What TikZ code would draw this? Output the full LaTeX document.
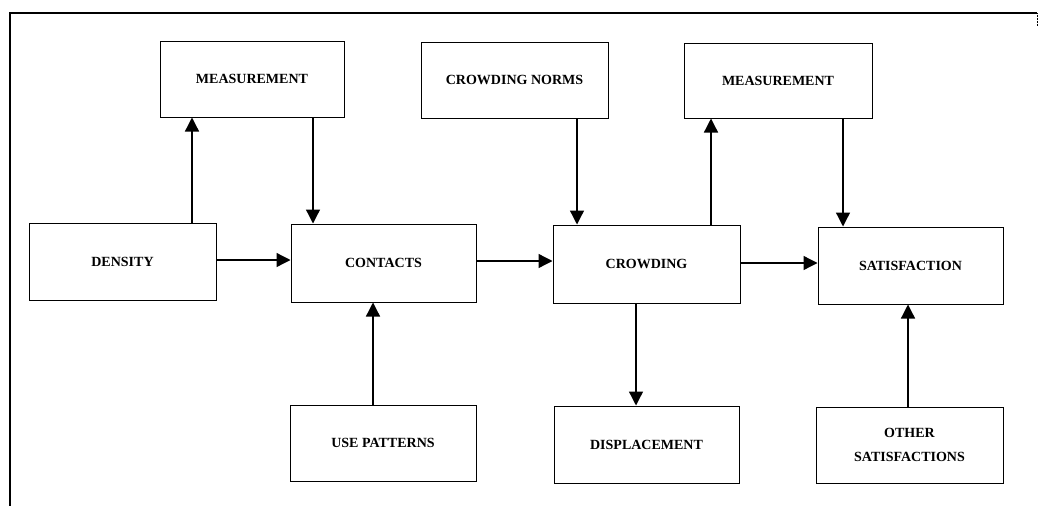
\documentclass[tikz,border=0pt]{standalone}
\usepackage{fontspec}
\setmainfont{Liberation Serif}
\usetikzlibrary{arrows.meta}
\begin{document}
\begin{tikzpicture}[x=1pt,y=-1pt,
  box/.style={draw,line width=1pt,inner sep=0pt,align=center,
    font=\fontsize{14}{24}\selectfont\bfseries},
  arr/.style={line width=1.3pt,-{Triangle[length=14pt,width=14pt]}},
  frameline/.style={line width=1.6pt}]
\useasboundingbox (0,0) rectangle (1038,506);

% outer frame (top and left edges)
\draw[frameline] (1037,13) -- (10,13) -- (10,506);
\draw[line width=0.5pt,densely dotted] (1037,13) -- (1037,26);

% boxes
\node[box,minimum width=184pt,minimum height=76pt] (meas1)    at (252,79)      {MEASUREMENT};
\node[box,minimum width=187pt,minimum height=77pt] (density)  at (122.5,261.5) {DENSITY};
\node[box,minimum width=185pt,minimum height=78pt] (contacts) at (383.5,263)   {CONTACTS};
\node[box,minimum width=186pt,minimum height=76pt] (usepat)   at (383,443)     {USE PATTERNS};
\node[box,minimum width=187pt,minimum height=76pt] (norms)    at (514.5,80)    {CROWDING NORMS};
\node[box,minimum width=187pt,minimum height=78pt] (crowding) at (646.5,264)   {CROWDING};
\node[box,minimum width=185pt,minimum height=77pt] (displ)    at (646.5,444.5) {DISPLACEMENT};
\node[box,minimum width=188pt,minimum height=75pt] (meas2)    at (778,80.5)    {MEASUREMENT};
\node[box,minimum width=185pt,minimum height=77pt] (satis)    at (910.5,265.5) {SATISFACTION};
\node[box,minimum width=187pt,minimum height=76pt] (other)    at (909.5,445)   {OTHER\\SATISFACTIONS};

% connectors
\draw[arr] ([xshift=69.5pt]density.north) coordinate (c1) -- (c1 |- meas1.south);
\draw[arr] ([xshift=61pt]meas1.south) coordinate (c2) -- (c2 |- contacts.north);
\draw[arr] ([yshift=1.5pt]density.east) coordinate (c0) -- (c0 -| contacts.west);
\draw[arr] ([xshift=-10pt]usepat.north) coordinate (c3) -- (c3 |- contacts.south);
\draw[arr] ([yshift=2pt]contacts.east) coordinate (c4) -- (c4 -| crowding.west);
\draw[arr] ([xshift=62.5pt]norms.south) coordinate (c5) -- (c5 |- crowding.north);
\draw[arr] ([xshift=64.5pt]crowding.north) coordinate (c6) -- (c6 |- meas2.south);
\draw[arr] ([xshift=-10.5pt]crowding.south) coordinate (c7) -- (c7 |- displ.north);
\draw[arr] ([xshift=65pt]meas2.south) coordinate (c8) -- (c8 |- satis.north);
\draw[arr] ([yshift=1pt]crowding.east) coordinate (c9) -- (c9 -| satis.west);
\draw[arr] ([xshift=-1.5pt]other.north) coordinate (c10) -- (c10 |- satis.south);
\end{tikzpicture}
\end{document}
